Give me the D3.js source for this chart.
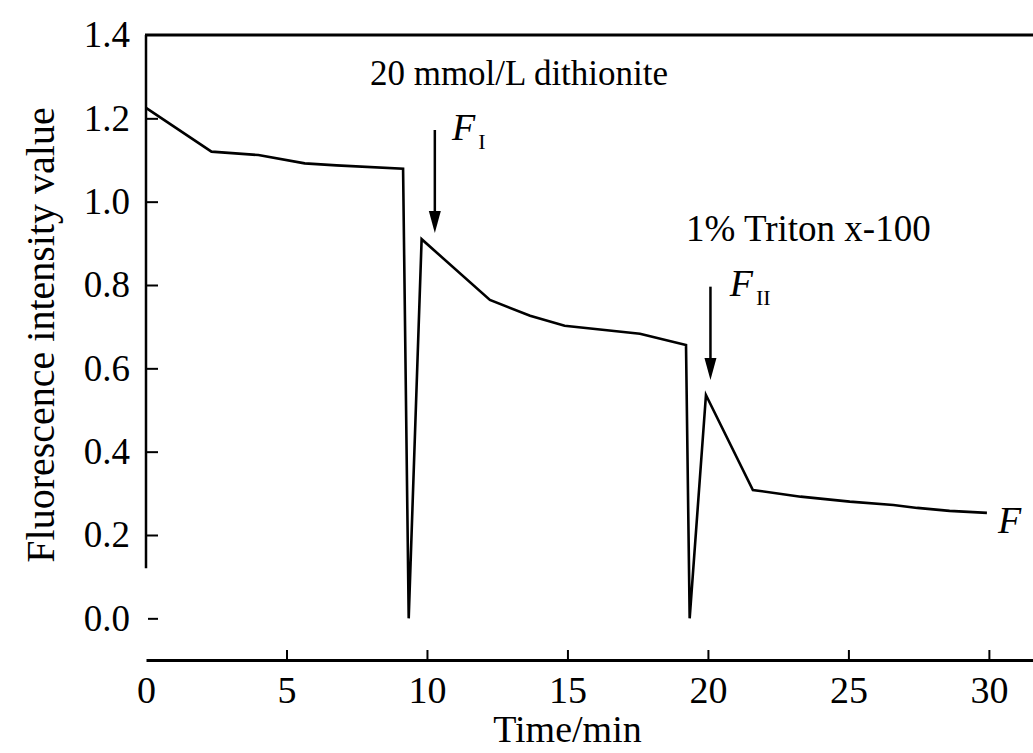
<!DOCTYPE html>
<html>
<head>
<meta charset="utf-8">
<script src="https://cdn.jsdelivr.net/npm/d3@7"></script>
<style>
  body { margin: 0; background: #fff; }
  svg { display: block; font-family: "Liberation Serif", "DejaVu Serif", serif; }
</style>
</head>
<body>
<div id="chart"></div>
<script>
// fluorescence trace
const times  = [0, 2.33, 4.0, 5.65, 6.78, 9.15, 9.35, 9.81, 12.24, 13.67, 14.9, 17.58, 19.22, 19.35, 19.93, 21.6, 23.3, 25.05, 26.6, 27.45, 28.6, 29.93];
const values = [1.225, 1.12, 1.112, 1.092, 1.087, 1.079, 0.0, 0.91, 0.764, 0.726, 0.702, 0.683, 0.656, 0.0, 0.536, 0.308, 0.292, 0.28, 0.272, 0.265, 0.258, 0.253];

const xTicks = [0, 5, 10, 15, 20, 25, 30];
const yTicks = [0, 0.2, 0.4, 0.6, 0.8, 1.0, 1.2, 1.4];

const width = 1033, height = 753;

const svg = d3.select('#chart').append('svg')
    .attr('width', width)
    .attr('height', height);

const x = d3.scaleLinear().domain([0, 31.57]).range([146, 1033]);
const y = d3.scaleLinear().domain([-0.1, 1.4]).range([660, 35]);

// top frame line
svg.append('line')
    .attr('x1', x(0) - 1).attr('x2', width)
    .attr('y1', y(1.4)).attr('y2', y(1.4))
    .attr('stroke', '#000').attr('stroke-width', 3);

// x axis
const xAxis = svg.append('g')
    .attr('transform', `translate(0,${y(-0.1)})`)
    .call(d3.axisBottom(x)
        .tickValues(xTicks)
        .tickSizeInner(-10)
        .tickSizeOuter(0)
        .tickPadding(16)
        .tickFormat(d3.format('d')));
xAxis.select('.domain').attr('stroke-width', 3);
xAxis.selectAll('.tick line').attr('stroke-width', 2)
    .filter(d => d === 0).remove();
xAxis.selectAll('.tick text')
    .attr('font-size', 38)
    .attr('font-family', '"Liberation Serif", serif')
    .attr('fill', '#000');

// y axis
const yAxis = svg.append('g')
    .attr('transform', `translate(${x(0)},0)`)
    .call(d3.axisLeft(y)
        .tickValues(yTicks)
        .tickSizeInner(-12)
        .tickSizeOuter(0)
        .tickPadding(16)
        .tickFormat(d3.format('.1f')));
yAxis.select('.domain').remove();
yAxis.selectAll('.tick line').attr('stroke-width', 2);
yAxis.selectAll('.tick').filter(d => d === 0).select('line')
    .attr('x1', 2).attr('x2', 12);
yAxis.selectAll('.tick').filter(d => d === 1.4).select('line').remove();
yAxis.selectAll('.tick text')
    .attr('font-size', 37)
    .attr('font-family', '"Liberation Serif", serif')
    .attr('fill', '#000');
svg.append('line')
    .attr('x1', x(0)).attr('x2', x(0))
    .attr('y1', y(1.4)).attr('y2', y(0.12))
    .attr('stroke', '#000').attr('stroke-width', 2.5);

// axis titles
svg.append('text')
    .attr('x', x(15)).attr('y', 742)
    .attr('text-anchor', 'middle')
    .attr('font-size', 38)
    .text('Time/min');

svg.append('text')
    .attr('transform', `translate(54,${(y(1.26) + y(0.1)) / 2}) rotate(-90)`)
    .attr('text-anchor', 'middle')
    .attr('font-size', 40)
    .text('Fluorescence intensity value');

// trace
const line = d3.line()
    .x(d => x(d[0]))
    .y(d => y(d[1]));

svg.append('path')
    .datum(d3.zip(times, values))
    .attr('fill', 'none')
    .attr('stroke', '#000')
    .attr('stroke-width', 2.6)
    .attr('stroke-linejoin', 'miter')
    .attr('d', line);

// arrows
function arrow(t, v0, v1) {
    const px = x(t), top = y(v0), tip = y(v1);
    svg.append('line')
        .attr('x1', px).attr('x2', px)
        .attr('y1', top).attr('y2', tip - 18)
        .attr('stroke', '#000').attr('stroke-width', 2.5);
    svg.append('path')
        .attr('d', `M${px - 6},${tip - 22}L${px + 6},${tip - 22}L${px},${tip}Z`)
        .attr('fill', '#000');
}
arrow(10.28, 1.172, 0.925);
arrow(20.09, 0.796, 0.572);

// labels
function label(t, v, txt, size) {
    return svg.append('text')
        .attr('x', x(t)).attr('y', y(v))
        .attr('font-size', size)
        .text(txt);
}
label(7.97, 1.28, '20 mmol/L dithionite', 35);
label(19.22, 0.906, '1% Triton x-100', 37);

function fLabel(t, v, sub) {
    const el = label(t, v, null, 38).attr('font-style', 'italic');
    el.append('tspan').text('F');
    if (sub) {
        el.append('tspan')
            .attr('font-size', 22)
            .attr('font-style', 'normal')
            .attr('dx', 3).attr('dy', 9)
            .text(sub);
    }
}
fLabel(10.89, 1.148, 'I');
fLabel(20.78, 0.774, 'II');
fLabel(30.32, 0.205, null);
</script>
</body>
</html>
